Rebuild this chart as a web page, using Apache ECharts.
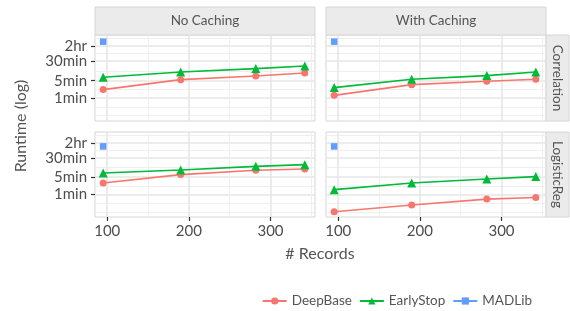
<!DOCTYPE html>
<html>
<head>
<meta charset="utf-8">
<script src="https://cdn.jsdelivr.net/npm/echarts@6/dist/echarts.min.js"></script>
<style>
  html, body { margin: 0; padding: 0; background: #fff; }
  #chart { width: 570px; height: 311px; }
</style>
</head>
<body>
<div id="chart"></div>
<script>
// # records on the x axis
const records = [95, 190, 282, 342];
const madlibRecords = [95];

// runtimes in seconds
const corrNoCacheDeepBase = [132, 331, 461, 608];
const corrNoCacheEarlyStop = [410, 668, 912, 1161];
const corrCacheDeepBase = [78, 209, 284, 341];
const corrCacheEarlyStop = [159, 341, 480, 668];
const logregNoCacheDeepBase = [174, 381, 568, 643];
const logregNoCacheEarlyStop = [443, 585, 822, 964];
const logregCacheDeepBase = [12, 22.5, 39, 45];
const logregCacheEarlyStop = [94, 174, 253, 316];
const corrMadlib = [10900];
const logregMadlib = [5250];

const yTickSeconds = [60, 300, 1800, 7200];
const yTickLabels = ['1min', '5min', '30min', '2hr'];
const xTicks = [100, 200, 300];
const xMinorTicks = [150, 250, 350];
const colTitles = ['No Caching', 'With Caching'];
const rowTitles = ['Correlation', 'LogisticReg'];

const COLORS = { DeepBase: '#F8766D', EarlyStop: '#00BA38', MADLib: '#619CFF' };
const FONT = 'Lato';

// layout of the 2x2 facet grid
const panelLeft = [95, 326];
const panelTop = [35, 132];
const panelW = 220;
const panelH = [86, 85];
const yMin = 0.867, yMax = 4.303;   // log10 seconds
const xMin = 85, xMax = 354.5;

// ggplot-style minor breaks: midpoints between log breaks, extended one step
const yMajor = yTickSeconds.map(s => Math.log10(s));
const ext = [yMajor[0] - (yMajor[1] - yMajor[0])].concat(yMajor,
  [yMajor[3] + (yMajor[3] - yMajor[2])]);
let yMinor = [];
for (let i = 0; i < ext.length - 1; i++) {
  yMinor.push((ext[i] + ext[i + 1]) / 2);
}
yMinor.push(ext[0]);
yMinor = yMinor.filter(v => v > yMin && v < yMax);

const panels = [
  { row: 0, col: 0, deep: corrNoCacheDeepBase, early: corrNoCacheEarlyStop, mad: corrMadlib },
  { row: 0, col: 1, deep: corrCacheDeepBase, early: corrCacheEarlyStop, mad: corrMadlib },
  { row: 1, col: 0, deep: logregNoCacheDeepBase, early: logregNoCacheEarlyStop, mad: logregMadlib },
  { row: 1, col: 1, deep: logregCacheDeepBase, early: logregCacheEarlyStop, mad: logregMadlib }
];

const toPts = (xs, ys) => xs.map((x, j) => [x, Math.log10(ys[j])]);

const grids = [], xAxes = [], yAxes = [], series = [], graphics = [];

panels.forEach((p, i) => {
  grids.push({
    left: panelLeft[p.col], top: panelTop[p.row], width: panelW, height: panelH[p.row],
    show: true, borderColor: '#D6D6D6', borderWidth: 1, backgroundColor: '#fff'
  });
  const isBottom = p.row === 1, isLeft = p.col === 0;
  // major x
  xAxes.push({
    type: 'value', gridIndex: i, min: xMin, max: xMax,
    axisLine: { show: false },
    axisTick: { show: isBottom, customValues: xTicks, length: 4, lineStyle: { color: '#333', width: 1.2 } },
    axisLabel: { show: isBottom, customValues: xTicks, margin: 7, color: '#4D4D4D', fontSize: 15, fontFamily: FONT },
    splitLine: { show: true, lineStyle: { color: '#E6E6E6', width: 1.5 } }
  });
  // minor x
  xAxes.push({
    type: 'value', gridIndex: i, min: xMin, max: xMax,
    axisLine: { show: false }, axisLabel: { show: false },
    axisTick: { show: false, customValues: xMinorTicks },
    splitLine: { show: true, lineStyle: { color: '#EFEFEF', width: 1 } }
  });
  // major y
  yAxes.push({
    type: 'value', gridIndex: i, min: yMin, max: yMax,
    axisLine: { show: false },
    axisTick: { show: isLeft, customValues: yMajor, length: 4, lineStyle: { color: '#333', width: 1.2 } },
    axisLabel: {
      show: isLeft, customValues: yMajor, margin: 8, color: '#4D4D4D', fontSize: 15, fontFamily: FONT,
      formatter: v => {
        let best = 0;
        yMajor.forEach((m, k) => { if (Math.abs(m - v) < Math.abs(yMajor[best] - v)) best = k; });
        return yTickLabels[best];
      }
    },
    splitLine: { show: true, lineStyle: { color: '#E6E6E6', width: 1.5 } }
  });
  // minor y
  yAxes.push({
    type: 'value', gridIndex: i, min: yMin, max: yMax,
    axisLine: { show: false }, axisLabel: { show: false },
    axisTick: { show: false, customValues: yMinor },
    splitLine: { show: true, lineStyle: { color: '#EFEFEF', width: 1 } }
  });

  const ax = { xAxisIndex: 2 * i, yAxisIndex: 2 * i };
  series.push(Object.assign({
    name: 'DeepBase', type: 'line', data: toPts(records, p.deep),
    symbol: 'circle', symbolSize: 7, color: COLORS.DeepBase,
    lineStyle: { width: 1.6 }
  }, ax));
  series.push(Object.assign({
    name: 'EarlyStop', type: 'line', data: toPts(records, p.early),
    symbol: 'triangle', symbolSize: 9, color: COLORS.EarlyStop,
    lineStyle: { width: 1.6 }
  }, ax));
  series.push(Object.assign({
    name: 'MADLib', type: 'line', data: toPts(madlibRecords, p.mad),
    symbol: 'rect', symbolSize: 6.5, color: COLORS.MADLib,
    lineStyle: { width: 1.6 }
  }, ax));
});

// facet strips
colTitles.forEach((t, c) => {
  graphics.push({ type: 'rect', shape: { x: panelLeft[c], y: 7, width: panelW, height: panelTop[0] - 7 },
    style: { fill: '#EBEBEB', stroke: '#D6D6D6', lineWidth: 1 } });
  graphics.push({ type: 'text', x: panelLeft[c] + panelW / 2, y: 21,
    style: { text: t, align: 'center', verticalAlign: 'middle', fill: '#555', fontSize: 13.5, fontFamily: FONT } });
});
rowTitles.forEach((t, r) => {
  const sx = panelLeft[1] + panelW;
  graphics.push({ type: 'rect', shape: { x: sx, y: panelTop[r], width: 23, height: panelH[r] },
    style: { fill: '#EBEBEB', stroke: '#D6D6D6', lineWidth: 1 } });
  graphics.push({ type: 'text', x: sx + 11.5, y: panelTop[r] + panelH[r] / 2, rotation: -Math.PI / 2,
    style: { text: t, align: 'center', verticalAlign: 'middle', fill: '#555', fontSize: 13.5, fontFamily: FONT } });
});
// axis titles
graphics.push({ type: 'text', x: 21, y: 126, rotation: Math.PI / 2,
  style: { text: 'Runtime (log)', align: 'center', verticalAlign: 'middle', fill: '#555', fontSize: 16, fontFamily: FONT } });
graphics.push({ type: 'text', x: 320, y: 254,
  style: { text: '# Records', align: 'center', verticalAlign: 'middle', fill: '#555', fontSize: 16, fontFamily: FONT } });

const chart = echarts.init(document.getElementById('chart'));
chart.setOption({
  animation: false,
  backgroundColor: '#fff',
  grid: grids,
  xAxis: xAxes,
  yAxis: yAxes,
  series: series,
  graphic: graphics,
  legend: {
    data: ['DeepBase', 'EarlyStop', 'MADLib'],
    right: 33, top: 289,
    itemWidth: 24, itemHeight: 9, itemGap: 7,
    textStyle: { color: '#555', fontSize: 13.5, fontFamily: FONT }
  }
});
</script>
</body>
</html>
